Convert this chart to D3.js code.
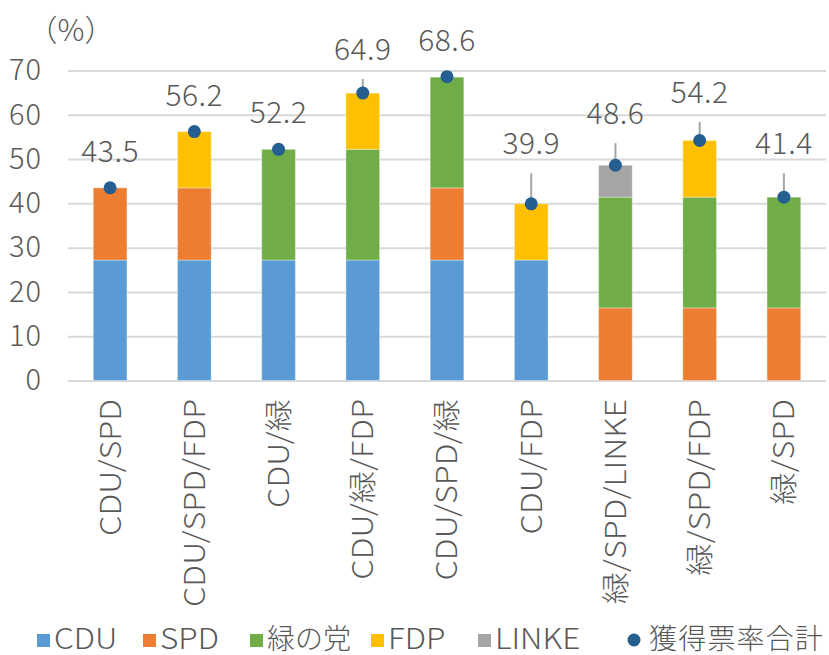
<!DOCTYPE html>
<html>
<head>
<meta charset="utf-8">
<script src="https://cdn.jsdelivr.net/npm/d3@7"></script>
<style>
  body { margin: 0; background: #fff; }
  text { font-family: "Noto Sans CJK JP", "Noto Sans", sans-serif; font-weight: 300; fill: #595959; }
</style>
</head>
<body>
<div id="chart"></div>
<script>
// coalitions on the x axis
const categories = ["CDU/SPD", "CDU/SPD/FDP", "CDU/緑", "CDU/緑/FDP", "CDU/SPD/緑",
    "CDU/FDP", "緑/SPD/LINKE", "緑/SPD/FDP", "緑/SPD"];

// party shares per coalition (0 = not part of it)
const cdu   = [27.2, 27.2, 27.2, 27.2, 27.2, 27.2, 0, 0, 0];
const spd   = [16.3, 16.3, 0, 0, 16.3, 0, 16.4, 16.4, 16.4];
const green = [0, 0, 25.0, 25.0, 25.0, 0, 25.0, 25.0, 25.0];
const linke = [0, 0, 0, 0, 0, 0, 7.2, 0, 0];
const fdp   = [0, 12.7, 0, 12.7, 0, 12.7, 0, 12.8, 0];

// total share and upward whisker
const totals = [43.5, 56.2, 52.2, 64.9, 68.6, 39.9, 48.6, 54.2, 41.4];
const errUp  = [0, 0, 0, 3.2, 0, 6.9, 5.0, 4.2, 5.4];

const yTicks = [0, 10, 20, 30, 40, 50, 60, 70];

const W = 829, H = 655;
const margin = { left: 68, right: 3, top: 70.5, bottom: 274.5 };

const colors = {
    CDU: "#5b9bd5", SPD: "#ed7d31", "緑の党": "#70ad47", FDP: "#ffc000", LINKE: "#a5a5a5"
};
const dotColor = "#255e91";

// stack order bottom -> top
const stackKeys = ["CDU", "SPD", "緑の党", "LINKE", "FDP"];
const legendKeys = ["CDU", "SPD", "緑の党", "FDP", "LINKE"];

const rows = categories.map((c, i) => ({
    cat: c, CDU: cdu[i], SPD: spd[i], "緑の党": green[i], LINKE: linke[i], FDP: fdp[i]
}));

const svg = d3.select("#chart").append("svg")
    .attr("width", W).attr("height", H);

const x = d3.scaleBand()
    .domain(categories)
    .range([margin.left, W - margin.right])
    .paddingInner(0.6)
    .paddingOuter(0.3);

const y = d3.scaleLinear()
    .domain([0, 70])
    .range([H - margin.bottom, margin.top]);

// gridlines
const yAxis = svg.append("g")
    .attr("transform", `translate(${margin.left},0)`)
    .call(d3.axisLeft(y).tickValues(yTicks).tickSize(-(W - margin.left - margin.right)).tickPadding(26));
yAxis.select(".domain").remove();
yAxis.selectAll(".tick line").attr("stroke", "#d9d9d9").attr("stroke-width", 2);
yAxis.selectAll(".tick text")
    .style("font-size", "29px")
    .style("letter-spacing", "1px")
    .attr("font-family", null)
    .attr("fill", "#595959");

// stacked bars
const series = d3.stack().keys(stackKeys)(rows);
svg.append("g").selectAll("g")
    .data(series)
    .join("g")
    .attr("fill", d => colors[d.key])
    .selectAll("rect")
    .data(d => d.filter(s => s[1] - s[0] > 0))
    .join("rect")
    .attr("x", d => x(d.data.cat))
    .attr("width", x.bandwidth())
    .attr("y", d => y(d[1]))
    .attr("height", d => y(d[0]) - y(d[1]))
    .attr("stroke", "#fff")
    .attr("stroke-opacity", 0.35)
    .attr("stroke-width", 1);

// whiskers
svg.append("g").selectAll("line")
    .data(categories.filter((c, i) => errUp[i] > 0).map(c => categories.indexOf(c)))
    .join("line")
    .attr("x1", i => x(categories[i]) + x.bandwidth() / 2)
    .attr("x2", i => x(categories[i]) + x.bandwidth() / 2)
    .attr("y1", i => y(totals[i]))
    .attr("y2", i => y(totals[i] + errUp[i]))
    .attr("stroke", "#a5a5a5")
    .attr("stroke-width", 2);

// total dots
svg.append("g").selectAll("circle")
    .data(totals)
    .join("circle")
    .attr("cx", (d, i) => x(categories[i]) + x.bandwidth() / 2)
    .attr("cy", d => y(d))
    .attr("r", 6.5)
    .attr("fill", dotColor);

// total labels
svg.append("g").selectAll("text")
    .data(totals)
    .join("text")
    .attr("x", (d, i) => x(categories[i]) + x.bandwidth() / 2)
    .attr("y", (d, i) => y(d + errUp[i]) - (errUp[i] > 0 ? 19 : 26))
    .attr("text-anchor", "middle")
    .style("font-size", "30px")
    .style("letter-spacing", "0.5px")
    .text(d => d.toFixed(1));

// rotated category labels (stretched along the text to match the wider latin glyphs)
svg.append("g").selectAll("text")
    .data(categories)
    .join("text")
    .attr("transform", d => `translate(${x(d) + x.bandwidth() / 2},399) rotate(-90) scale(1.12,1)`)
    .attr("text-anchor", "end")
    .attr("dy", "0.36em")
    .style("font-size", "29px")
    .text(d => d);

// unit label
svg.append("text")
    .attr("x", 71).attr("y", 41)
    .attr("text-anchor", "middle")
    .style("font-size", "30px")
    .text("（%）");

// legend
const legendX = [37, 143, 250, 371, 478, 624];
const legend = svg.append("g");
legendKeys.forEach((k, i) => {
    legend.append("rect")
        .attr("x", legendX[i]).attr("y", 634)
        .attr("width", 13).attr("height", 13)
        .attr("fill", colors[k]);
    const sx = /^[A-Z]+$/.test(k) ? 1.13 : 1;
    legend.append("text")
        .attr("transform", `translate(${legendX[i] + 17},649) scale(${sx},1)`)
        .style("font-size", "28px")
        .text(k);
});
legend.append("circle")
    .attr("cx", legendX[5] + 10).attr("cy", 640)
    .attr("r", 6.5)
    .attr("fill", dotColor);
legend.append("text")
    .attr("x", legendX[5] + 25).attr("y", 649)
    .style("font-size", "28px")
    .style("letter-spacing", "1.2px")
    .text("獲得票率合計");
</script>
</body>
</html>
